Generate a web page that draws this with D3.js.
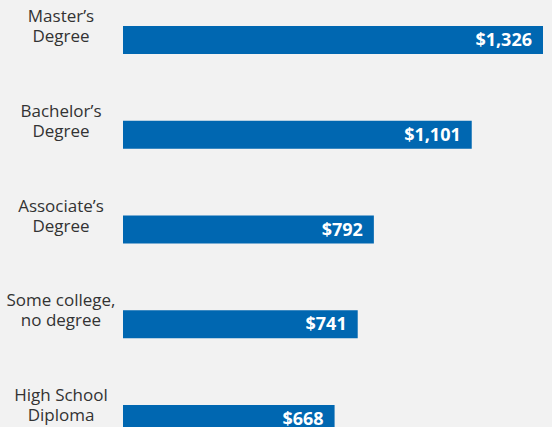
<!DOCTYPE html>
<html>
<head>
<meta charset="utf-8">
<script src="https://cdn.jsdelivr.net/npm/d3@7"></script>
<style>
  html, body { margin: 0; padding: 0; background: #f2f2f2; }
  svg { display: block; }
</style>
</head>
<body>
<div id="chart"></div>
<script>
// weekly earnings by education level
const categories = [
  ["Master\u2019s", "Degree"],
  ["Bachelor\u2019s", "Degree"],
  ["Associate\u2019s", "Degree"],
  ["Some college,", "no degree"],
  ["High School", "Diploma"]
];
const earnings = [1326, 1101, 792, 741, 668];
const valueLabels = ["$1,326", "$1,101", "$792", "$741", "$668"];

const width = 552,
  height = 427,
  barLeft = 123,
  labelX = 61;

const svg = d3.select("#chart")
  .append("svg")
  .attr("width", width)
  .attr("height", height)
  .style("font-family", "'Open Sans', sans-serif");

svg.append("rect")
  .attr("width", width)
  .attr("height", height)
  .attr("fill", "#f2f2f2");

const x = d3.scaleLinear()
  .domain([0, d3.max(earnings)])
  .range([barLeft, 543]);

const y = d3.scaleBand()
  .domain(d3.range(earnings.length))
  .range([26, 433])
  .paddingInner(0.7045)
  .paddingOuter(0)
  .align(0);

// bars
svg.append("g")
  .selectAll("rect")
  .data(earnings)
  .join("rect")
  .attr("x", x(0))
  .attr("y", (d, i) => y(i))
  .attr("width", d => x(d) - x(0))
  .attr("height", y.bandwidth())
  .attr("fill", "#0067b1");

// value labels inside the bars
svg.append("g")
  .attr("font-size", 18)
  .attr("font-weight", "bold")
  .attr("fill", "#fff")
  .attr("text-anchor", "end")
  .selectAll("text")
  .data(earnings)
  .join("text")
  .attr("x", d => x(d) - 11)
  .attr("y", (d, i) => y(i) + y.bandwidth() / 2 + 6)
  .text((d, i) => valueLabels[i]);

// category labels, two lines each
svg.append("g")
  .attr("font-size", 17)
  .attr("fill", "#333")
  .attr("text-anchor", "middle")
  .selectAll("text")
  .data(categories)
  .join("text")
  .attr("transform", (d, i) => `translate(${labelX},${y(i) - 4})`)
  .selectAll("tspan")
  .data(d => d)
  .join("tspan")
  .attr("x", 0)
  .attr("y", (d, i) => i * 20)
  .text(d => d);
</script>
</body>
</html>
